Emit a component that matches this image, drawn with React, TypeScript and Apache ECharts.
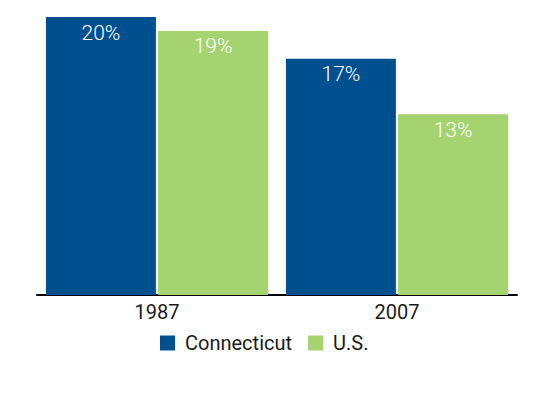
import React, { useEffect, useRef } from "react";
import * as echarts from "echarts";

const categories = ["1987", "2007"];
const connecticut = [20, 17];
const us = [19, 13];

export default function App() {
  const ref = useRef<HTMLDivElement>(null);
  useEffect(() => {
    const chart = echarts.init(ref.current!, null, { renderer: "svg" });
    const font = "Roboto, sans-serif";
    const label = {
      show: true,
      position: "insideTop" as const,
      distance: 5,
      color: "#ffffff",
      fontSize: 21,
      fontWeight: 300,
      fontFamily: font,
      formatter: "{c}%",
    };
    chart.setOption({
      animation: false,
      backgroundColor: "#ffffff",
      grid: { left: 37, right: 27, top: 17, bottom: 105 },
      legend: {
        left: 155,
        top: 328,
        itemWidth: 15,
        itemHeight: 15,
        itemGap: 16,
        icon: "rect",
        textStyle: { fontSize: 20, color: "#1a1a1a", fontFamily: font, padding: [0, 0, 0, 5] },
        data: ["Connecticut", "U.S."],
      },
      xAxis: {
        type: "category",
        data: categories,
        axisLine: { lineStyle: { color: "#000", width: 2 } },
        axisTick: { show: false },
        axisLabel: { fontSize: 20, color: "#1a1a1a", fontFamily: font, margin: 7 },
      },
      yAxis: { type: "value", min: 0, max: 20, show: false, splitLine: { show: false } },
      series: [
        {
          name: "Connecticut",
          type: "bar",
          data: connecticut,
          barWidth: 110,
          barGap: "2%",
          itemStyle: { color: "#00508f" },
          label,
        },
        {
          name: "U.S.",
          type: "bar",
          data: us,
          barWidth: 110,
          itemStyle: { color: "#a5d370" },
          label,
        },
      ],
    });
    return () => chart.dispose();
  }, []);
  return (
    <div
      ref={ref}
      style={{ position: "absolute", left: 0, top: 0, width: 544, height: 400 }}
    />
  );
}
